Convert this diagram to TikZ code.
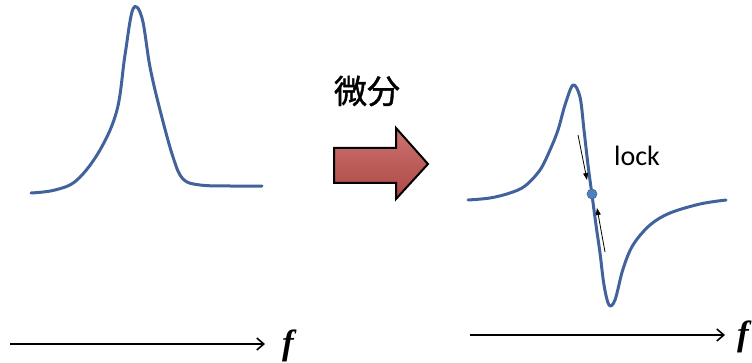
\documentclass[tikz,border=0pt]{standalone}
\usepackage{fontspec}
\setmainfont{Liberation Serif}
\newfontfamily\axisfont{Liberation Serif}[UprightFont=* Bold Italic]
\newfontfamily\cjkfont{Noto Sans CJK JP}[FakeBold=1.2]
\newfontfamily\labelfont{Carlito}
\usetikzlibrary{arrows.meta}
\definecolor{curveblue}{RGB}{66,98,156}
\definecolor{dotblue}{RGB}{79,129,189}
\definecolor{arrowred}{RGB}{192,80,77}
\tikzset{
  curve/.style={curveblue, line width=3pt, line join=round, line cap=round},
  axis/.style={line width=1.6pt, -{Straight Barb[length=7pt,width=12pt,line width=1.6pt]}},
  nudge/.style={line width=0.8pt, -{Triangle[length=7pt,width=5pt]}},
  flabel/.style={font=\axisfont\fontsize{35}{35}\selectfont, inner sep=0pt},
}
\begin{document}
\begin{tikzpicture}[x=1pt, y=-1pt]
\useasboundingbox (0,0) rectangle (752,363);

% absorption line
\draw[curve] plot[smooth, tension=0.6] coordinates {
  (31,193) (55,190) (77,180) (100,150) (117,110) (125,55) (133,9)
  (142,18) (150,67) (160,110) (173,157) (183,179) (200,185) (230,186) (262,186)};

% derivative (error signal)
\draw[curve] plot[smooth, tension=0.55] coordinates {
  (468,200) (490,198) (510,193) (525,186) (540,170) (550,150) (558,130)
  (565,105) (573,85) (580,97) (584,130) (588,165) (592,195) (596,225)
  (600,253) (604,285) (609,305) (615,300) (623,269) (633,245) (650,225)
  (670,213) (700,204) (726,200)};

% lock point and nudging arrows
\node[circle, fill=dotblue, draw=curveblue, line width=0.6pt, inner sep=0pt, minimum size=10pt] (lockpt) at (592,194) {};
\coordinate (upS) at (578,135);
\coordinate (upE) at (587,180);
\coordinate (dnS) at (605,252);
\coordinate (dnE) at (597,208);
\draw[nudge] (upS) -- (upE);
\draw[nudge] (dnS) -- (dnE);
\node[font=\labelfont\fontsize{28}{28}\selectfont] (lock) at (637,156) {lock};

% differentiation arrow
\node[font=\cjkfont\fontsize{33}{33}\selectfont] (diff) at (367,91) {微分};
\path[draw=black, line width=2pt, line join=miter, top color=arrowred!80!white, bottom color=arrowred!90!black]
  (334,148) -- (396,148) -- (396,128) -- (428,164) -- (396,199) -- (396,183) -- (334,183) -- cycle;

% frequency axes
\coordinate (ax1s) at (10,344);
\coordinate (ax1e) at (265,344);
\node[flabel] (f1) at (288,346) {f};
\draw[axis] (ax1s) -- (ax1e);
\coordinate (ax2s) at (470,335);
\coordinate (ax2e) at (725,335);
\node[flabel] (f2) at (743,337) {f};
\draw[axis] (ax2s) -- (ax2e);
\end{tikzpicture}
\end{document}
